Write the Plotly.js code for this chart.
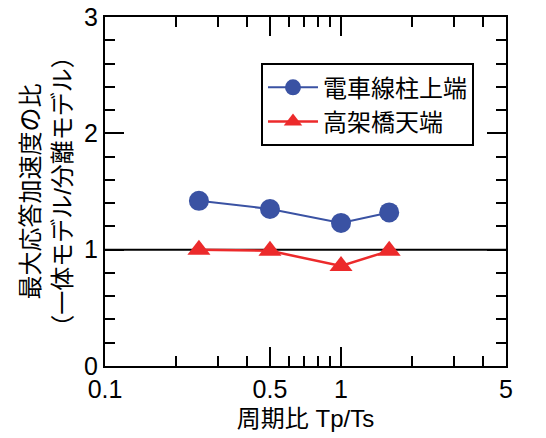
<!DOCTYPE html>
<html>
<head>
<meta charset="utf-8">
<script src="https://cdn.plot.ly/plotly-3.0.1.min.js"></script>
<style>html,body{margin:0;padding:0;background:#fff;}#chart{width:546px;height:438px;}</style>
</head>
<body>
<div id="chart"></div>
<script>
// Data
const periodRatio = [0.25, 0.5, 1.0, 1.6];
const catenaryTop = [1.42, 1.35, 1.23, 1.32];   // 電車線柱上端
const viaductTop = [1.00, 0.99, 0.86, 0.99];    // 高架橋天端
const seriesNames = ['電車線柱上端', '高架橋天端'];
const xTickVals = [0.1, 0.5, 1, 5];
const xTickText = ['0.1', '0.5', '1', '5'];
const xMinorVals = [0.2, 0.3, 0.4, 0.6, 0.7, 0.8, 0.9, 2, 3, 4];
const yTickVals = [0, 1, 2, 3];
const refLineX = [0.1, 5];
const refLineY = [1, 1];

const FONT = '"Liberation Sans", Arial, "Noto Sans CJK JP", sans-serif';
const BLUE = '#3a52a3';
const RED = '#ec2a2b';

const traces = [
  {
    x: refLineX, y: refLineY, type: 'scatter', mode: 'lines',
    line: {color: '#000', width: 2}, showlegend: false, hoverinfo: 'skip'
  },
  {
    x: periodRatio, y: catenaryTop, name: seriesNames[0],
    type: 'scatter', mode: 'lines+markers',
    line: {color: BLUE, width: 2},
    marker: {symbol: 'circle', size: 20, color: BLUE}
  },
  {
    x: periodRatio, y: viaductTop, name: seriesNames[1],
    type: 'scatter', mode: 'lines+markers',
    line: {color: RED, width: 2.5},
    marker: {symbol: 'triangle-up', size: 20, color: RED}
  }
];

const layout = {
  width: 546, height: 438,
  margin: {l: 105, r: 40, t: 16, b: 72},
  showlegend: true,
  xaxis: {
    type: 'log', range: [Math.log10(0.1), Math.log10(5)],
    showline: true, linecolor: '#000', linewidth: 2, mirror: 'allticks',
    ticks: 'inside', ticklen: 18, tickwidth: 2, tickcolor: '#000',
    showgrid: false, zeroline: false,
    tickmode: 'array', tickvals: xTickVals, ticktext: xTickText,
    tickfont: {family: FONT, size: 25, color: '#000'},
    minor: {tickmode: 'array', tickvals: xMinorVals, ticks: 'inside', ticklen: 10, tickwidth: 2, tickcolor: '#000'},
    title: {text: '周期比 Tp/Ts', font: {family: FONT, size: 24, color: '#000'}, standoff: 8}
  },
  yaxis: {
    range: [0, 3],
    showline: true, linecolor: '#000', linewidth: 2, mirror: 'allticks',
    ticks: 'inside', ticklen: 18, tickwidth: 2, tickcolor: '#000',
    showgrid: false, zeroline: false,
    tickmode: 'array', tickvals: yTickVals,
    tickfont: {family: FONT, size: 25, color: '#000'},
    minor: {dtick: 0.2, ticks: 'inside', ticklen: 10, tickwidth: 2, tickcolor: '#000'},
    title: {text: '最大応答加速度の比<br>（一体モデル/分離モデル）', font: {family: FONT, size: 24, color: '#000'}, standoff: 6}
  },
  legend: {
    x: 0.389, y: 0.865, xanchor: 'left', yanchor: 'top',
    bgcolor: '#fff', bordercolor: '#000', borderwidth: 2,
    font: {family: FONT, size: 24, color: '#000'},
    itemwidth: 50, tracegroupgap: 0
  }
};

Plotly.newPlot('chart', traces, layout, {staticPlot: true}).then(gd =>
  Plotly.relayout(gd, {'margin.t': 17, 'xaxis.ticklen': 19, 'yaxis.ticklen': 19})
);
</script>
</body>
</html>
